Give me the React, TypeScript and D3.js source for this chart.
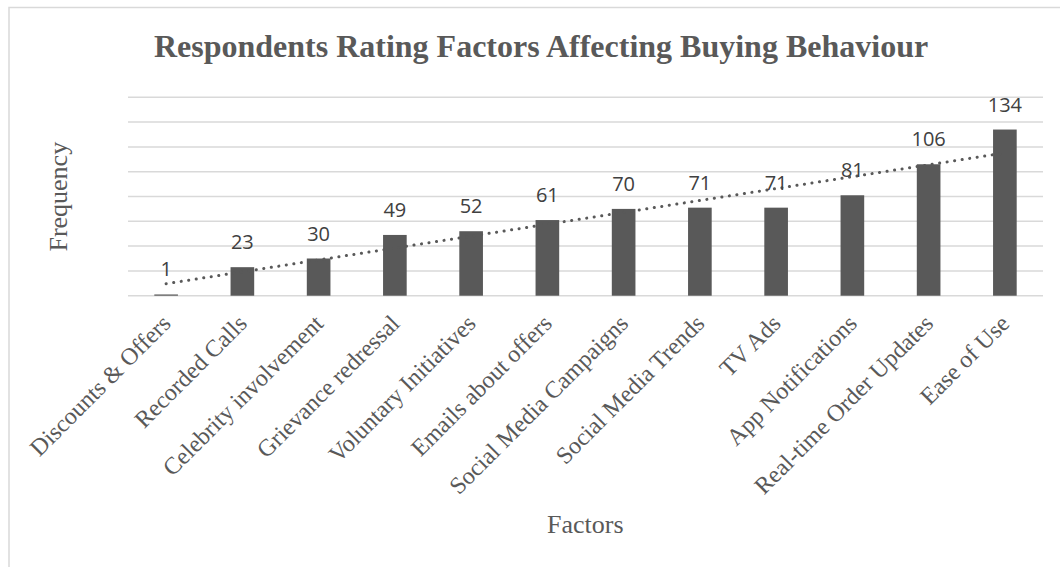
import React from "react";
import * as d3 from "d3";

const categories = [
  "Discounts & Offers",
  "Recorded Calls",
  "Celebrity involvement",
  "Grievance redressal",
  "Voluntary Initiatives",
  "Emails about offers",
  "Social Media Campaigns",
  "Social Media Trends",
  "TV Ads",
  "App Notifications",
  "Real-time Order Updates",
  "Ease of Use",
];
const frequencies = [1, 23, 30, 49, 52, 61, 70, 71, 71, 81, 106, 134];
const gridTicks = [0, 20, 40, 60, 80, 100, 120, 140, 160];

const title = "Respondents Rating Factors Affecting Buying Behaviour";
const yTitle = "Frequency";
const xTitle = "Factors";

const W = 1060;
const H = 567;
const plotLeft = 128;
const plotRight = 1043;
const plotTop = 97.3;
const plotBottom = 295.7;

export default function App() {
  const x = d3
    .scaleBand<string>()
    .domain(categories)
    .range([plotLeft, plotRight])
    .paddingInner(0.69)
    .paddingOuter(0.345);
  const y = d3.scaleLinear().domain([0, 160]).range([plotBottom, plotTop]);

  // linear trendline (least squares over category index)
  const n = frequencies.length;
  const xs = frequencies.map((_, i) => i + 1);
  const mx = d3.mean(xs) as number;
  const my = d3.mean(frequencies) as number;
  const sxy = d3.sum(xs.map((xi, i) => (xi - mx) * (frequencies[i] - my)));
  const sxx = d3.sum(xs.map((xi) => (xi - mx) * (xi - mx)));
  const slope = sxy / sxx;
  const icpt = my - slope * mx;
  const trendPts: [number, number][] = [1, n].map((xi) => [
    (x(categories[xi - 1]) as number) + x.bandwidth() / 2,
    y(icpt + slope * xi),
  ]);
  const line = d3.line<[number, number]>();

  const serif = "'Liberation Serif', 'Times New Roman', serif";
  const sans = "'Open Sans', 'Noto Sans', sans-serif";

  return (
    <svg
      width={W}
      height={H}
      style={{ position: "absolute", left: 0, top: 0, background: "#fff" }}
    >
      <rect x={0} y={0} width={W} height={H} fill="#fff" />
      <path d={`M9,${H} V7.5 H${W}`} fill="none" stroke="#d9d9d9" strokeWidth={1.5} />

      <text
        x={541}
        y={57}
        textAnchor="middle"
        fontFamily={serif}
        fontWeight="bold"
        fontSize={32}
        fill="#595959"
      >
        {title}
      </text>

      {gridTicks.map((t) => (
        <line
          key={t}
          x1={plotLeft}
          x2={plotRight}
          y1={y(t)}
          y2={y(t)}
          stroke="#d9d9d9"
          strokeWidth={1.5}
        />
      ))}

      {categories.map((c, i) => (
        <rect
          key={c}
          x={x(c)}
          y={y(frequencies[i])}
          width={x.bandwidth()}
          height={plotBottom - y(frequencies[i])}
          fill="#595959"
        />
      ))}

      <path
        d={line(trendPts) || ""}
        fill="none"
        stroke="#595959"
        strokeWidth={3}
        strokeLinecap="round"
        strokeDasharray="0.1 7.5"
      />

      {categories.map((c, i) => (
        <text
          key={"l" + c}
          x={(x(c) as number) + x.bandwidth() / 2}
          y={y(frequencies[i]) - 18}
          textAnchor="middle"
          fontFamily={sans}
          fontSize={20}
          fill="#404040"
        >
          {frequencies[i]}
        </text>
      ))}

      {categories.map((c) => {
        const cx = (x(c) as number) + x.bandwidth() / 2;
        return (
          <text
            key={"x" + c}
            transform={`translate(${cx + 6},325) rotate(-45)`}
            textAnchor="end"
            fontFamily={serif}
            fontSize={24}
            fill="#595959"
          >
            {c}
          </text>
        );
      })}

      <text
        transform={`translate(67,196.7) rotate(-90)`}
        textAnchor="middle"
        fontFamily={serif}
        fontSize={26}
        fill="#595959"
      >
        {yTitle}
      </text>
      <text
        x={585.3}
        y={533}
        textAnchor="middle"
        fontFamily={serif}
        fontSize={26}
        fill="#595959"
      >
        {xTitle}
      </text>
    </svg>
  );
}
